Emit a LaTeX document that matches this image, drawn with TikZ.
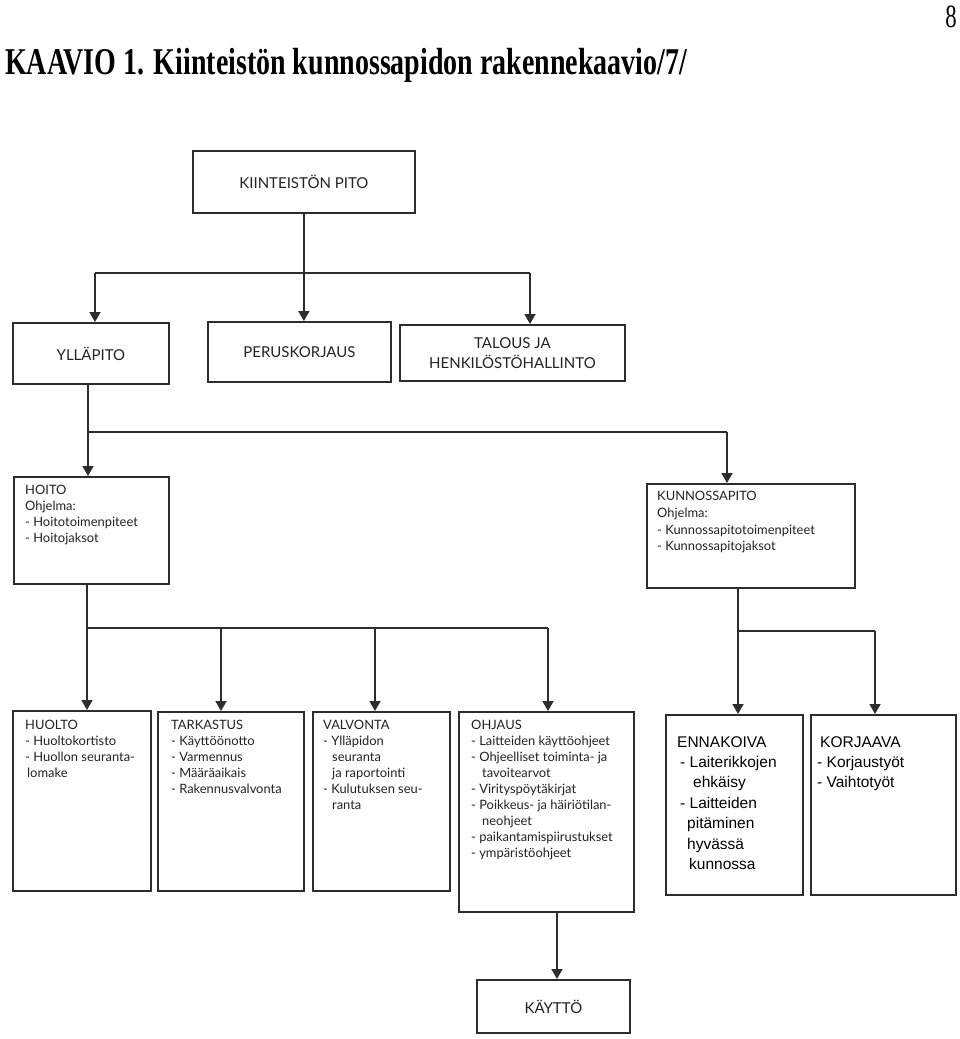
\documentclass[tikz,border=0pt]{standalone}
\usepackage{graphicx}
\usepackage{fontspec}
\setmainfont{Liberation Serif}
\newfontfamily\scanfont{Lato}
\newfontfamily\arialfont{Liberation Sans}
\usetikzlibrary{arrows.meta,calc}
\definecolor{ink}{RGB}{45,45,45}
\definecolor{txt}{RGB}{35,35,35}
\begin{document}
\begin{tikzpicture}[x=1pt,y=-1pt,
  rect/.style={draw=ink, line width=1.8pt, inner sep=0pt, anchor=north west, fill=white,
     text=txt, font={\scanfont\fontsize{15}{20}\selectfont}, align=center},
  ln/.style={draw=ink, line width=1.8pt},
  arr/.style={ln, -{Triangle[length=10pt,width=11pt]}},
  body/.style={anchor=north west, inner sep=0pt, align=left, text=txt,
     font={\scanfont\fontsize{12.9}{16}\selectfont}},
  arial/.style={anchor=north west, inner sep=0pt, align=left, text=black,
     font={\arialfont\fontsize{15.5}{20.4}\selectfont}}]
\useasboundingbox[fill=white] (0,0) rectangle (960,1039);

% title
\node[anchor=base west, inner sep=0pt] (title) at (5,74)
  {\scalebox{0.74}[1]{\fontsize{37.8}{40}\selectfont\bfseries KAAVIO 1. Kiinteistön kunnossapidon rakennekaavio/7/}};
\node[anchor=base east, inner sep=0pt] (pagenum) at (957,27)
  {\scalebox{0.7}[1]{\fontsize{32.5}{34}\selectfont 8}};

% boxes
\node[rect, minimum width=222pt, minimum height=62pt] (pito) at (192,150) {KIINTEISTÖN PITO};
\node[rect, minimum width=156pt, minimum height=61pt] (yllapito) at (12,322) {YLLÄPITO};
\node[rect, minimum width=183pt, minimum height=60pt] (perus) at (207,321) {PERUSKORJAUS};
\node[rect, minimum width=225pt, minimum height=56pt] (talous) at (399,324) {TALOUS JA\\HENKILÖSTÖHALLINTO};
\node[rect, minimum width=155pt, minimum height=107pt] (hoito) at (13,476) {};
\node[rect, minimum width=208pt, minimum height=104pt] (kunn) at (646,483) {};
\node[rect, minimum width=138pt, minimum height=180pt] (huolto) at (12,710) {};
\node[rect, minimum width=146pt, minimum height=179pt] (tark) at (157,711) {};
\node[rect, minimum width=137pt, minimum height=179pt] (valv) at (312,711) {};
\node[rect, minimum width=175pt, minimum height=200pt] (ohjaus) at (458,711) {};
\node[rect, minimum width=137pt, minimum height=180pt] (ennak) at (665,714) {};
\node[rect, minimum width=145pt, minimum height=180pt] (korj) at (810,714) {};
\node[rect, minimum width=153pt, minimum height=53pt] (kaytto) at (476,979) {KÄYTTÖ};

% box texts
\node[body] (hoitotxt) at (25,485) {HOITO\\Ohjelma:\\- Hoitotoimenpiteet\\- Hoitojaksot};
\node[body, font={\scanfont\fontsize{12.9}{16.8}\selectfont}] (kunntxt) at (657,491)
  {KUNNOSSAPITO\\Ohjelma:\\- Kunnossapitotoimenpiteet\\- Kunnossapitojaksot};
\node[body] (huoltotxt) at (25,720) {HUOLTO\\- Huoltokortisto\\- Huollon seuranta-\\\hspace*{2pt}lomake};
\node[body] (tarktxt) at (171,720) {TARKASTUS\\- Käyttöönotto\\- Varmennus\\- Määräaikais\\- Rakennusvalvonta};
\node[body] (valvtxt) at (323,720) {VALVONTA\\- Ylläpidon\\\hspace*{9pt}seuranta\\\hspace*{9pt}ja raportointi\\- Kulutuksen seu-\\\hspace*{9pt}ranta};
\node[body] (ohjaustxt) at (471,720) {OHJAUS\\- Laitteiden käyttöohjeet\\- Ohjeelliset toiminta- ja\\\hspace*{11pt}tavoitearvot\\- Virityspöytäkirjat\\- Poikkeus- ja häiriötilan-\\\hspace*{11pt}neohjeet\\- paikantamispiirustukset\\- ympäristöohjeet};
\node[arial] (ennaktxt) at (677,736) {ENNAKOIVA\\\hspace*{3pt}- Laiterikkojen\\\hspace*{16pt}ehkäisy\\\hspace*{3pt}- Laitteiden\\\hspace*{10pt}pitäminen\\\hspace*{10pt}hyvässä\\\hspace*{12pt}kunnossa};
\node[arial] (korjtxt) at (820,736) {KORJAAVA\\\hspace*{-3pt}- Korjaustyöt\\\hspace*{-3pt}- Vaihtotyöt};

% connectors level 1
\coordinate (t1) at (95,273);
\coordinate (t2) at (530,273);
\draw[arr] (pito.south) -- (pito.south |- perus.north);
\draw[ln] (t1) -- (t2);
\draw[arr] (t1) -- (t1 |- yllapito.north);
\draw[arr] (t2) -- (t2 |- talous.north);

% level 2
\coordinate (h1) at (88,432);
\coordinate (h2) at (727,432);
\draw[arr] (yllapito.south -| h1) -- (h1 |- hoito.north);
\draw[ln] (h1) -- (h2);
\draw[arr] (h2) -- (h2 |- kunn.north);

% level 3 left
\coordinate (l1) at (87,628);
\coordinate (l2) at (221,628);
\coordinate (l3) at (375,628);
\coordinate (l4) at (548,628);
\draw[ln] (hoito.south -| l1) -- (l1);
\draw[ln] (l1) -- (l4);
\draw[arr] (l1) -- (l1 |- huolto.north);
\draw[arr] (l2) -- (l2 |- tark.north);
\draw[arr] (l3) -- (l3 |- valv.north);
\draw[arr] (l4) -- (l4 |- ohjaus.north);

% level 3 right
\coordinate (r1) at (738,631);
\coordinate (r2) at (875,631);
\draw[arr] (kunn.south -| r1) -- (r1 |- ennak.north);
\draw[ln] (r1) -- (r2);
\draw[arr] (r2) -- (r2 |- korj.north);

% to KAYTTO
\coordinate (k1) at (557,911);
\draw[arr] (k1) -- (k1 |- kaytto.north);
\end{tikzpicture}
\end{document}
